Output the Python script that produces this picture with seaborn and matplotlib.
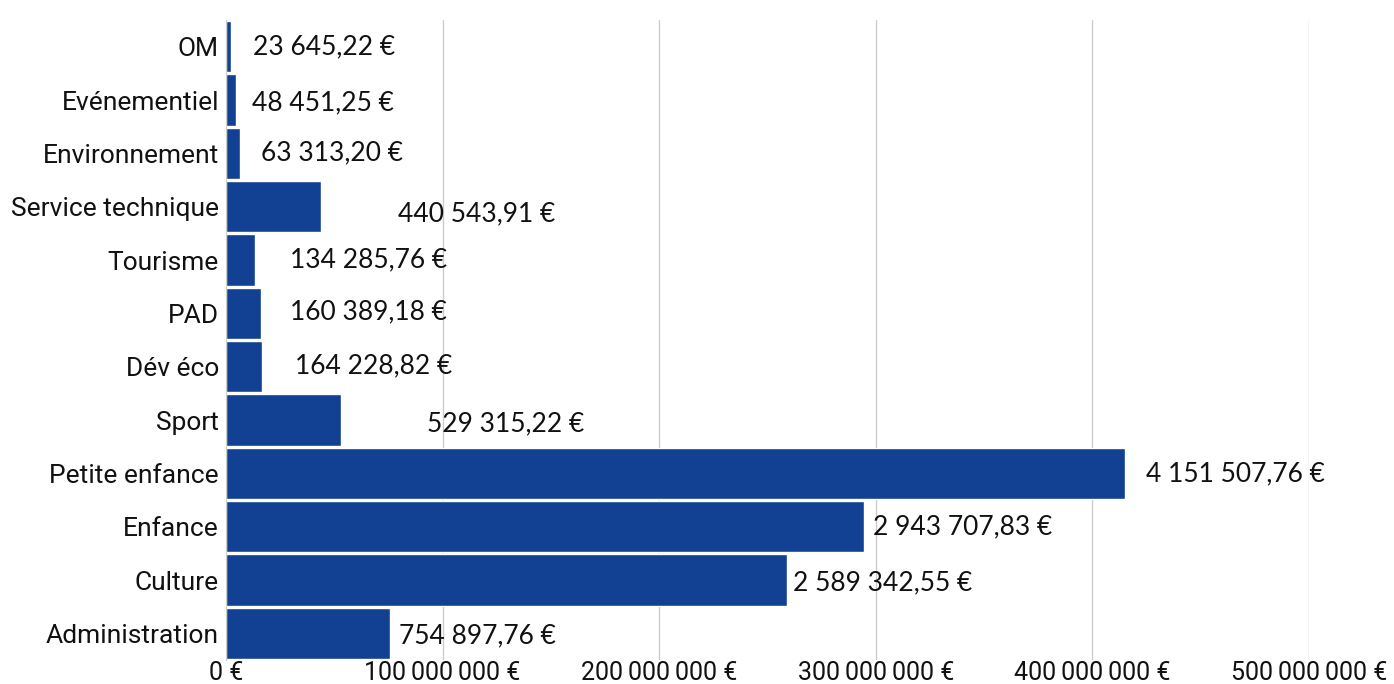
import matplotlib
matplotlib.use('Agg')
import pandas as pd
import matplotlib.pyplot as plt
import seaborn as sns
from matplotlib.ticker import FuncFormatter, MultipleLocator

# Data (euros); the bars are drawn in cents, as in the original chart
categories = ['OM', 'Evénementiel', 'Environnement', 'Service technique', 'Tourisme', 'PAD',
              'Dév éco', 'Sport', 'Petite enfance', 'Enfance', 'Culture', 'Administration']
amounts = [23645.22, 48451.25, 63313.20, 440543.91, 134285.76, 160389.18,
           164228.82, 529315.22, 4151507.76, 2943707.83, 2589342.55, 754897.76]

# label offsets (pixels) from bar end, as placed in the original
label_dx = [22, 16, 21, 77, 35, 29, 33, 86, 21, 9, 6, 9]
label_dy = [0, 3, -1, 7, 0, -2, -1, 4, 0, 0, 3, 2]

data = pd.DataFrame({'category': categories, 'amount': amounts})
data['bar'] = data['amount'] * 100

sns.set_style('white')
plt.rcParams['font.family'] = ['Roboto', 'DejaVu Sans']

fig = plt.figure(figsize=(13.94, 6.84), dpi=100)
ax = fig.add_axes([226 / 1394, 1 - 660 / 684, (1309 - 226) / 1394, 640 / 684])

sns.barplot(data=data, y='category', x='bar', orient='h', color='#124093',
            saturation=1, width=0.96, ax=ax)

ax.set_xlim(0, 5e8)
ax.xaxis.set_major_locator(MultipleLocator(1e8))
ax.xaxis.set_major_formatter(FuncFormatter(
    lambda v, p: '{:,.0f}'.format(v).replace(',', '\u202f') + ' €'))
ax.grid(axis='x', color='#cccccc', linewidth=1)
ax.set_axisbelow(True)
for s in ['top', 'right', 'bottom']:
    ax.spines[s].set_visible(False)
ax.spines['left'].set_color('#cccccc')
ax.tick_params(axis='both', length=0)
ax.tick_params(axis='x', labelsize=18, pad=1, colors='#111111')
ax.tick_params(axis='y', labelsize=19, pad=5, colors='#111111')
ax.set_xlabel('')
ax.set_ylabel('')

for i, (v, dx, dy) in enumerate(zip(amounts, label_dx, label_dy)):
    txt = '{:,.2f}'.format(v).replace(',', ' ').replace('.', ',') + ' €'
    ax.annotate(txt, xy=(v * 100, i), xytext=(dx, -dy), textcoords='offset pixels',
                va='center', ha='left', fontsize=19, color='#111111',
                family=['Lato', 'DejaVu Sans'])

fig.savefig('out.png', dpi=100)
